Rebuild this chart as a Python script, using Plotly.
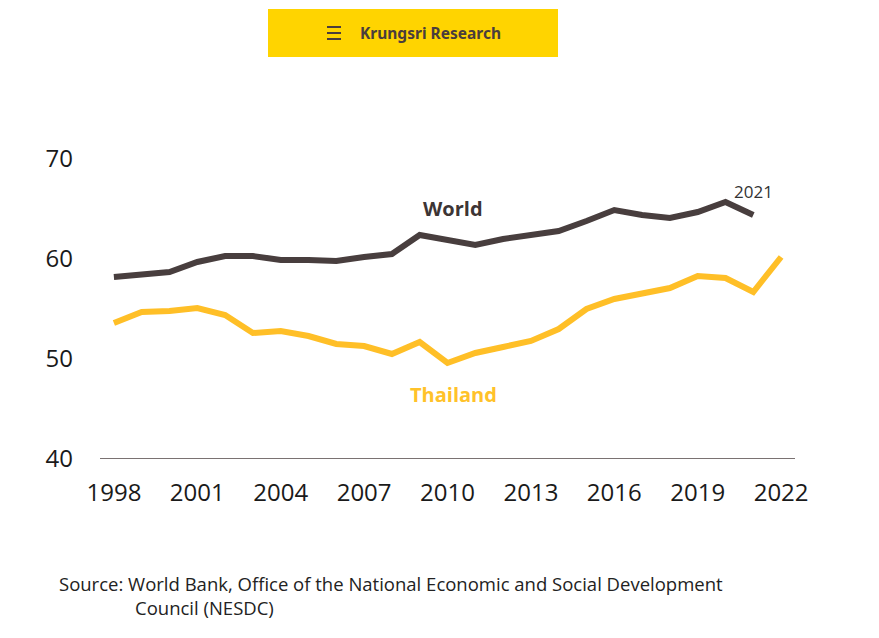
import plotly.graph_objects as go

years_world = list(range(1998, 2022))
world = [58.2, 58.5, 58.7, 59.7, 60.3, 60.3, 59.9, 59.9, 59.8, 60.2, 60.5, 62.4,
         61.9, 61.4, 62.0, 62.4, 62.8, 63.8, 64.9, 64.4, 64.1, 64.7, 65.7, 64.4]
years_thai = list(range(1998, 2023))
thailand = [53.6, 54.7, 54.8, 55.1, 54.4, 52.6, 52.8, 52.3, 51.5, 51.3, 50.5, 51.7,
            49.6, 50.6, 51.2, 51.8, 53.0, 55.0, 56.0, 56.6, 57.1, 58.3, 58.1, 56.7, 60.2]
x_ticks = [1998, 2001, 2004, 2007, 2010, 2013, 2016, 2019, 2022]
y_ticks = [40, 50, 60, 70]

W, H = 879, 638
OFF = 8  # page body margin
# plot area in screen pixels
SX0, SX1, SY0, SY1 = 100, 795, 159, 459
L = SX0 - OFF
R = W - (SX1 - OFF)
T = SY0 - OFF
B = H - (SY1 - OFF)
PW = SX1 - SX0
PH = SY1 - SY0


def px(sx):
    return (sx - SX0) / PW


def py(sy):
    return (SY1 - sy) / PH


WORLD_C = "#483e3e"
THAI_C = "#ffbf27"
FONT = "Open Sans"

fig = go.Figure()
fig.add_trace(go.Scatter(x=years_world, y=world, mode="lines",
                         line=dict(color=WORLD_C, width=6), hoverinfo="skip"))
fig.add_trace(go.Scatter(x=years_thai, y=thailand, mode="lines",
                         line=dict(color=THAI_C, width=6), hoverinfo="skip"))

fig.update_layout(
    width=W, height=H, showlegend=False,
    margin=dict(l=L, r=R, t=T, b=B),
    plot_bgcolor="white", paper_bgcolor="white",
    font=dict(family=FONT, color="#222222"),
    xaxis=dict(range=[1997.5, 2022.5], tickvals=x_ticks, showgrid=False,
               zeroline=False, showline=False, ticks="",
               tickfont=dict(size=24, color="#1a1a1a"), ticklabelstandoff=17),
    yaxis=dict(range=[40, 70], tickvals=y_ticks, showgrid=False, zeroline=False,
               showline=False, ticks="",
               tickfont=dict(size=24, color="#1a1a1a"), ticklabelstandoff=26),
)

# baseline axis line at y=40
fig.add_shape(type="line", xref="paper", yref="y", x0=0, x1=1, y0=40, y1=40,
              line=dict(color="#7a7272", width=2))

# Banner
fig.add_shape(type="rect", xref="paper", yref="paper",
              x0=px(268), x1=px(558), y0=py(57), y1=py(9),
              fillcolor="#ffd400", line=dict(width=0), layer="below")
for yy in [27, 33, 39]:
    fig.add_shape(type="line", xref="paper", yref="paper",
                  x0=px(327), x1=px(341), y0=py(yy), y1=py(yy),
                  line=dict(color="#4a3d3d", width=2))
fig.add_annotation(text="<b>Krungsri Research</b>", xref="paper", yref="paper",
                   x=px(358), y=py(33), xanchor="left", yanchor="middle",
                   showarrow=False,
                   font=dict(family="Noto Sans", size=15.5, color="#4a3d3d"))

# Series labels
fig.add_annotation(text="<b>World</b>", x=2010.2, y=65.1, xref="x", yref="y",
                   showarrow=False, font=dict(size=20, color="#3d3535"))
fig.add_annotation(text="<b>Thailand</b>", x=2010.2, y=46.5, xref="x", yref="y",
                   showarrow=False, font=dict(size=20, color="#ffc22a"))
fig.add_annotation(text="2021", x=2021.0, y=66.8, xref="x", yref="y",
                   showarrow=False, font=dict(size=17, color="#333333"))

# Source
fig.add_annotation(text="Source: World Bank, Office of the National Economic and Social Development",
                   xref="paper", yref="paper", x=px(57), y=py(583),
                   xanchor="left", yanchor="middle", showarrow=False,
                   font=dict(family=FONT, size=18.5, color="#222222"))
fig.add_annotation(text="Council (NESDC)",
                   xref="paper", yref="paper", x=px(133), y=py(607),
                   xanchor="left", yanchor="middle", showarrow=False,
                   font=dict(family=FONT, size=18.5, color="#222222"))

fig.write_html("out.html")
